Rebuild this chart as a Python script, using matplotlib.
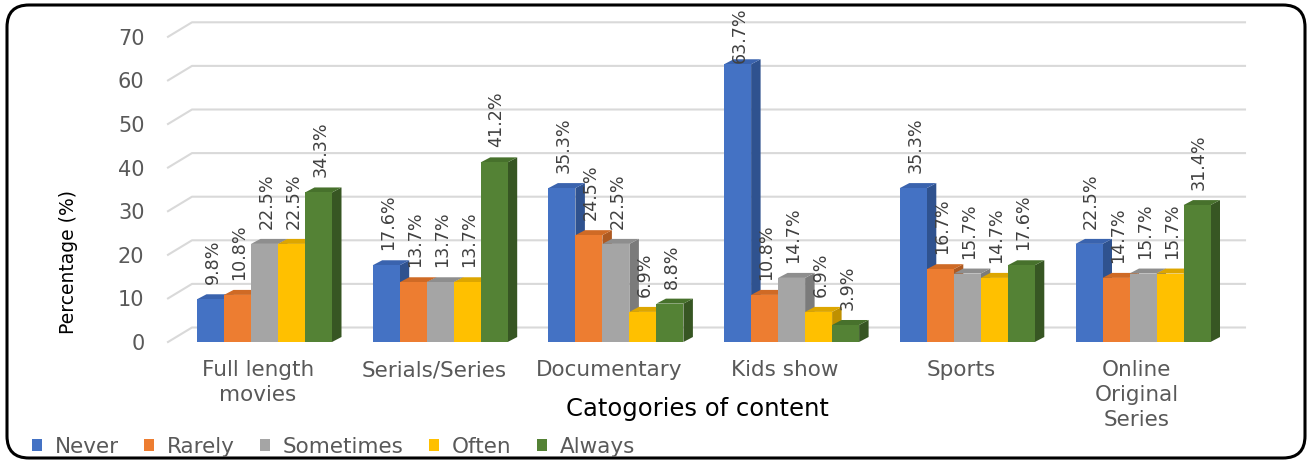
import numpy as np
import matplotlib
matplotlib.use("Agg")
import matplotlib.pyplot as plt
from matplotlib.patches import Polygon, FancyBboxPatch
from matplotlib.transforms import IdentityTransform

categories = ["Full length\nmovies", "Serials/Series", "Documentary",
              "Kids show", "Sports", "Online\nOriginal\nSeries"]
series = ["Never", "Rarely", "Sometimes", "Often", "Always"]
never = [9.8, 17.6, 35.3, 63.7, 35.3, 22.5]
rarely = [10.8, 13.7, 24.5, 10.8, 16.7, 14.7]
sometimes = [22.5, 13.7, 22.5, 14.7, 15.7, 15.7]
often = [22.5, 13.7, 6.9, 6.9, 14.7, 15.7]
always = [34.3, 41.2, 8.8, 3.9, 17.6, 31.4]
values = [never, rarely, sometimes, often, always]

front = ["#4472C4", "#ED7D31", "#A5A5A5", "#FFC000", "#548235"]
top = ["#3A63AE", "#CF6A25", "#8E8E8E", "#DDA600", "#47712C"]
side = ["#2F528F", "#AE5A21", "#7B7B7B", "#BF9000", "#375623"]

plt.rcParams["font.family"] = ["DejaVu Sans"]
W, H = 1312, 462
fig = plt.figure(figsize=(W / 100, H / 100), dpi=100)

# front plane of the 3D plot, in pixels
left_px, right_px = 168, 1221
zero_px, unit_px = 342, 4.36
x_unit = 175.7
x0, x1 = (left_px - 264.5) / x_unit, (right_px - 264.5) / x_unit
ax = fig.add_axes([left_px / W, (H - zero_px) / H,
                   (right_px - left_px) / W, 70 * unit_px / H])
ax.set_xlim(x0, x1)
ax.set_ylim(0, 70)

# back wall gridlines with the slanted left edge
wall_dx, wall_dy = 24 / x_unit, 14.5 / unit_px
for v in range(0, 71, 10):
    ax.plot([x0, x0 + wall_dx, x1 + wall_dx], [v, v + wall_dy, v + wall_dy],
            color="#D9D9D9", lw=1.5, clip_on=False, zorder=0)

x = np.arange(len(categories))
w = 27 / x_unit
ddx, ddy = 9.5 / x_unit, 5 / unit_px
label_cap = (zero_px - 8) / unit_px - 55 / unit_px

handles = []
for i, (vals, name) in enumerate(zip(values, series)):
    pos = x + (i - 2) * w
    z = 2 + i * 0.1
    bars = ax.bar(pos, vals, width=w, color=front[i], label=name, zorder=z + 0.05)
    handles.append(bars)
    for b in bars:
        bx, bw, bh = b.get_x(), b.get_width(), b.get_height()
        ax.add_patch(Polygon([(bx + bw, 0), (bx + bw, bh), (bx + bw + ddx, bh + ddy),
                              (bx + bw + ddx, ddy)], closed=True, color=side[i],
                             lw=0, zorder=z, clip_on=False))
        ax.add_patch(Polygon([(bx, bh), (bx + bw, bh), (bx + bw + ddx, bh + ddy),
                              (bx + ddx, bh + ddy)], closed=True, color=top[i],
                             lw=0, zorder=z, clip_on=False))
        ly = min(bh + 15 / unit_px, label_cap)
        ax.text(bx + bw / 2 + 2 / x_unit, ly, f"{bh:.1f}%", rotation=90,
                ha="center", va="bottom", fontsize=12.6, color="#404040",
                zorder=5, clip_on=False)

for s in ax.spines.values():
    s.set_visible(False)
ax.set_yticks(range(0, 71, 10))
ax.tick_params(axis="y", length=0, pad=17, labelsize=15, labelcolor="#595959")
ax.set_xticks(x - 6.5 / x_unit)
ax.set_xticklabels(categories, fontsize=15.5, color="#595959", linespacing=1.32)
ax.tick_params(axis="x", length=0, pad=13)

fig.text(69 / W, 1 - 262 / H, "Percentage (%)", rotation=90, fontsize=13.5,
         color="black", ha="center", va="center")
fig.text(697 / W, 1 - 409 / H, "Catogories of content", fontsize=17.5,
         color="black", ha="center", va="center")

fig.legend(handles=handles, labels=series, loc="center left",
           bbox_to_anchor=(32 / W, 1 - 447 / H), ncol=5, frameon=False,
           fontsize=15.5, handlelength=0.47, handleheight=0.47, handletextpad=0.6,
           columnspacing=1.16, labelcolor="#595959", borderaxespad=0, borderpad=0)

# rounded outer frame
fig.patches.append(FancyBboxPatch((7, 4), 1298, 453,
                                  boxstyle="round,pad=0,rounding_size=22",
                                  transform=IdentityTransform(), fill=False,
                                  ec="black", lw=2.2))

fig.savefig("out.png", dpi=100)
